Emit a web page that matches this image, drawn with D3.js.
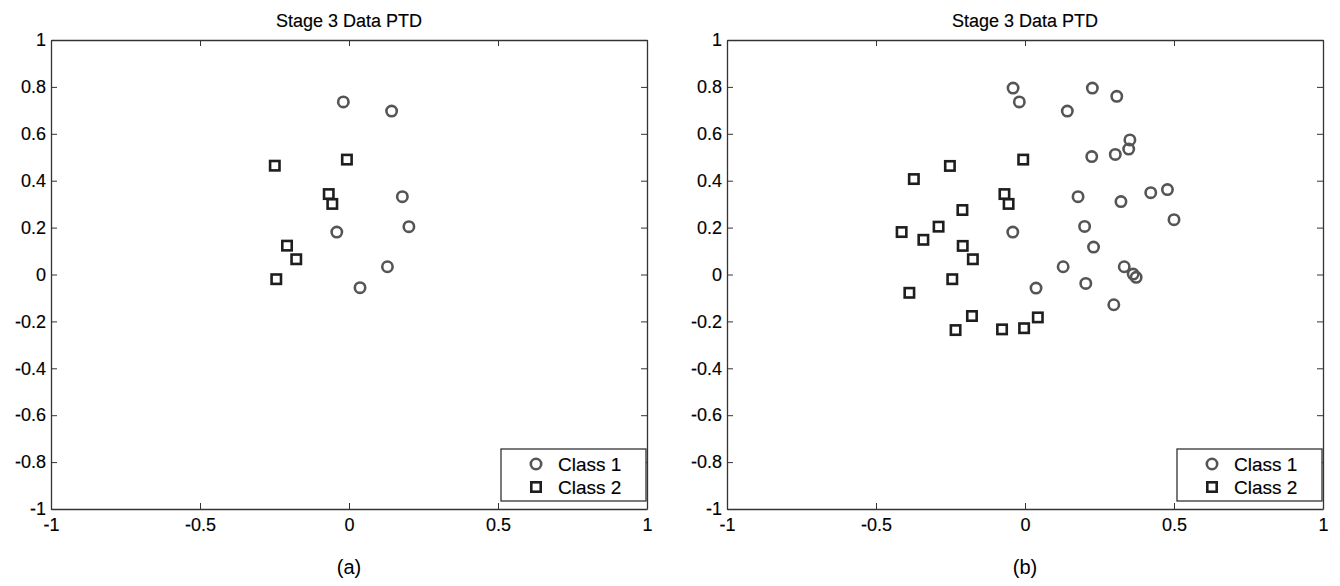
<!DOCTYPE html>
<html>
<head>
<meta charset="utf-8">
<script src="https://cdn.jsdelivr.net/npm/d3@7"></script>
<style>
  html, body { margin: 0; padding: 0; background: #fff; }
  svg { display: block; }
  text { font-family: "Liberation Sans", Arial, sans-serif; }
</style>
</head>
<body>
<svg id="chart" width="1340" height="586"></svg>
<script>
// ---- data ----
const chartTitle = "Stage 3 Data PTD";
const legendLabels = ["Class 1", "Class 2"];
const captions = ["(a)", "(b)"];
const xTickValues = [-1, -0.5, 0, 0.5, 1];
const xTickLabels = ["-1", "-0.5", "0", "0.5", "1"];
const yTickValues = [1, 0.8, 0.6, 0.4, 0.2, 0, -0.2, -0.4, -0.6, -0.8, -1];
const yTickLabels = ["1", "0.8", "0.6", "0.4", "0.2", "0", "-0.2", "-0.4", "-0.6", "-0.8", "-1"];

// panel (a)
const aClass1 = [
  [-0.019, 0.736], [0.143, 0.697], [0.179, 0.332], [0.201, 0.204],
  [-0.041, 0.181], [0.129, 0.033], [0.037, -0.056]
];
const aClass2 = [
  [-0.249, 0.464], [-0.007, 0.490], [-0.068, 0.343], [-0.056, 0.301],
  [-0.208, 0.123], [-0.177, 0.065], [-0.244, -0.020]
];
// panel (b)
const bClass1 = [
  [-0.040, 0.795], [-0.019, 0.736], [0.226, 0.795], [0.308, 0.760],
  [0.142, 0.697], [0.352, 0.574], [0.348, 0.535], [0.303, 0.512],
  [0.224, 0.503], [0.178, 0.332], [0.322, 0.311], [0.422, 0.349],
  [0.478, 0.362], [0.500, 0.234], [-0.041, 0.181], [0.200, 0.205],
  [0.230, 0.117], [0.128, 0.033], [0.333, 0.033], [0.363, 0.002],
  [0.373, -0.012], [0.204, -0.038], [0.037, -0.058], [0.298, -0.129]
];
const bClass2 = [
  [-0.006, 0.490], [-0.252, 0.463], [-0.373, 0.407], [-0.069, 0.343],
  [-0.055, 0.301], [-0.210, 0.275], [-0.414, 0.181], [-0.290, 0.204],
  [-0.341, 0.148], [-0.209, 0.122], [-0.175, 0.065], [-0.244, -0.020],
  [-0.388, -0.078], [-0.178, -0.177], [0.043, -0.183], [-0.233, -0.237],
  [-0.077, -0.234], [-0.003, -0.229]
];

// ---- layout ----
const svg = d3.select("#chart");
const panels = [
  { left: 51, right: 647, c1: aClass1, c2: aClass2, cap: captions[0] },
  { left: 727, right: 1323, c1: bClass1, c2: bClass2, cap: captions[1] }
];
const plotTop = 40, plotBottom = 509;
const axisColor = "#333";
const c1Color = "#555";
const c2Color = "#1e1e1e";
const tickFont = 18;
const legendFont = 19;
const textHalo = 0.15;

function circleMark(g, cx, cy) {
  g.append("circle").attr("cx", cx).attr("cy", cy).attr("r", 5.2)
    .attr("fill", "none").attr("stroke", c1Color).attr("stroke-width", 2.6);
}
function squareMark(g, cx, cy) {
  const s = 9.4;
  g.append("rect").attr("x", cx - s / 2).attr("y", cy - s / 2)
    .attr("width", s).attr("height", s)
    .attr("fill", "none").attr("stroke", c2Color).attr("stroke-width", 2.6);
}
function heavy(sel) {
  sel.attr("stroke", "#000").attr("stroke-width", textHalo).attr("fill", "#000");
}

panels.forEach(p => {
  const x = d3.scaleLinear().domain([-1, 1]).range([p.left, p.right]);
  const y = d3.scaleLinear().domain([-1, 1]).range([plotBottom, plotTop]);
  const g = svg.append("g");

  const styleAxis = sel => {
    sel.selectAll("path.domain").attr("stroke", axisColor).attr("stroke-width", 1.3);
    sel.selectAll(".tick line").attr("stroke", axisColor).attr("stroke-width", 1);
    sel.selectAll("text").attr("font-size", tickFont)
      .attr("font-family", "'Liberation Sans', Arial, sans-serif").call(heavy);
  };

  // bottom
  g.append("g").attr("transform", `translate(0,${plotBottom})`)
    .call(d3.axisBottom(x).tickValues(xTickValues)
      .tickFormat((d, i) => xTickLabels[i]).tickSizeInner(-6).tickSizeOuter(0).tickPadding(9))
    .call(styleAxis);
  // top
  g.append("g").attr("transform", `translate(0,${plotTop})`)
    .call(d3.axisTop(x).tickValues(xTickValues).tickFormat("").tickSizeInner(-6).tickSizeOuter(0))
    .call(styleAxis);
  // left
  g.append("g").attr("transform", `translate(${p.left},0)`)
    .call(d3.axisLeft(y).tickValues(yTickValues)
      .tickFormat((d, i) => yTickLabels[i]).tickSizeInner(-6).tickSizeOuter(0).tickPadding(5))
    .call(styleAxis);
  // right
  g.append("g").attr("transform", `translate(${p.right},0)`)
    .call(d3.axisRight(y).tickValues(yTickValues).tickFormat("").tickSizeInner(-6).tickSizeOuter(0))
    .call(styleAxis);

  // title
  g.append("text").attr("x", (p.left + p.right) / 2).attr("y", 27)
    .attr("text-anchor", "middle").attr("font-size", 18).call(heavy).text(chartTitle);

  // points
  const pts = g.append("g");
  p.c1.forEach(d => circleMark(pts, x(d[0]), y(d[1])));
  p.c2.forEach(d => squareMark(pts, x(d[0]), y(d[1])));

  // legend
  const lg = g.append("g");
  const lx0 = p.right - 146, ly0 = 449, lw = 145, lh = 52;
  lg.append("rect").attr("x", lx0).attr("y", ly0).attr("width", lw).attr("height", lh)
    .attr("fill", "#fff").attr("stroke", axisColor).attr("stroke-width", 1.3);
  circleMark(lg, lx0 + 35, ly0 + 15);
  squareMark(lg, lx0 + 35, ly0 + 38);
  lg.append("text").attr("x", lx0 + 57).attr("y", ly0 + 22)
    .attr("font-size", legendFont).call(heavy).text(legendLabels[0]);
  lg.append("text").attr("x", lx0 + 57).attr("y", ly0 + 45)
    .attr("font-size", legendFont).call(heavy).text(legendLabels[1]);

  // caption
  g.append("text").attr("x", (p.left + p.right) / 2).attr("y", 574)
    .attr("text-anchor", "middle").attr("font-size", 20)
    .attr("font-family", "'Liberation Serif', 'Times New Roman', serif")
    .text(p.cap);
});
</script>
</body>
</html>
